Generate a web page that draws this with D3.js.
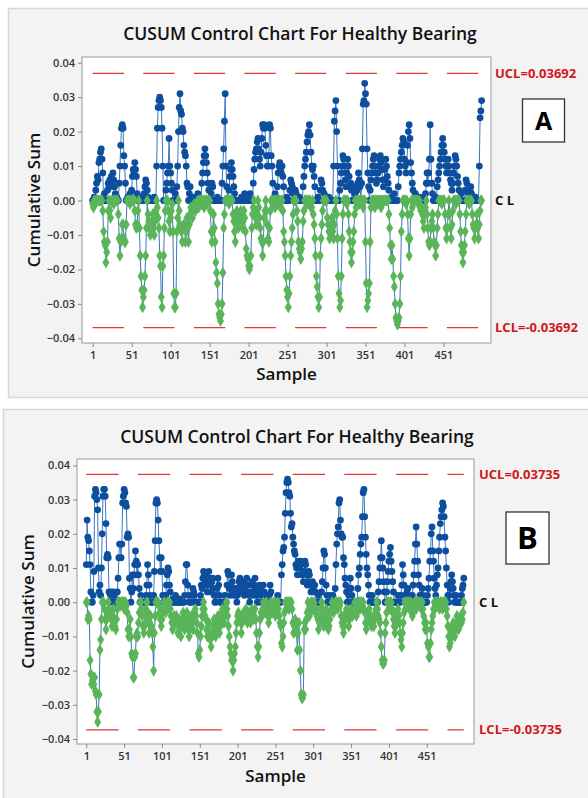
<!DOCTYPE html>
<html lang="en">
<head>
<meta charset="utf-8" />
<title>CUSUM Control Chart For Healthy Bearing</title>
<script src="https://cdn.jsdelivr.net/npm/d3@7"></script>
<style>
body { margin: 0; background: #fff; }
text { font-family: "Open Sans", "Noto Sans", sans-serif; }
</style>
</head>
<body>
<div id="chart"></div>
<script>
// CUSUM values for samples 1..500, in thousandths (x 0.001)
var upperA = [
  0,0,1,0,3,5,7,6,11,12,14,15,12,8,0,2,0,0,0,3,
  5,4,6,4,7,5,8,6,4,2,0,1,0,0,5,10,16,21,22,21,
  13,10,5,0,0,1,0,0,2,0,3,7,9,8,11,9,7,2,0,0,
  0,0,1,0,0,0,2,4,6,5,3,1,0,0,0,0,0,0,0,1,
  0,0,10,21,27,29,30,29,27,21,10,0,0,0,3,5,8,10,18,10,
  8,5,3,0,0,0,2,0,4,10,20,27,31,26,25,21,20,16,14,13,
  10,5,4,0,2,4,0,0,0,1,0,0,0,0,0,2,0,0,0,0,
  5,8,11,13,15,13,11,8,5,3,0,0,2,5,4,0,0,0,0,0,
  1,0,0,0,0,0,5,10,15,23,31,10,4,0,0,3,7,9,11,9,
  7,4,2,0,0,0,0,0,0,0,0,1,0,0,0,2,0,0,0,1,
  0,0,2,0,0,0,5,9,12,14,15,17,18,15,12,10,14,18,22,21,
  22,21,16,13,10,10,13,22,21,13,10,5,0,0,2,0,0,4,8,10,
  11,9,8,10,7,4,0,0,0,1,0,0,0,3,6,5,4,2,0,0,
  3,2,0,0,0,1,0,0,0,0,4,7,10,12,14,17,19,20,22,19,
  14,10,9,10,7,4,0,0,0,1,0,0,3,6,5,3,0,2,0,0,
  0,0,0,1,0,0,0,0,0,10,23,26,29,20,10,0,0,3,5,8,
  10,13,12,10,6,4,8,12,10,7,4,5,3,0,0,0,2,2,4,3,
  5,8,6,4,0,5,15,28,29,34,31,28,15,8,4,0,3,6,8,10,
  12,13,10,8,5,6,8,10,12,13,11,9,6,4,6,9,12,10,7,5,
  3,0,0,0,1,0,0,2,0,0,0,0,4,8,10,12,14,16,18,17,
  12,10,8,11,16,20,22,18,11,8,5,3,0,0,2,0,0,0,0,1,
  0,0,0,0,0,1,0,2,5,8,5,8,12,22,12,5,2,0,0,0,
  1,0,4,6,8,10,12,14,16,18,16,14,12,10,8,10,12,10,8,6,
  5,3,5,8,10,13,12,10,7,5,3,0,0,2,0,0,0,0,3,6,
  5,3,2,0,3,4,2,0,0,0,0,1,0,0,0,0,10,24,26,29
];
var lowerA = [
  -1,-2,0,-1,0,0,0,0,0,0,0,0,0,-3,-9,-12,-13,-18,-15,-12,
  -3,0,-3,-5,0,0,0,-1,0,0,0,0,0,-4,-11,-16,-12,-11,-7,-7,
  -11,-12,-12,-7,0,0,0,0,-1,0,0,0,0,0,-3,-7,-8,-7,-3,0,
  -8,-16,-22,-26,-31,-28,-26,-22,-16,-8,0,-4,-6,-8,-10,-8,-6,-4,-8,-10,
  -6,-3,0,-2,-5,-8,-16,-19,-28,-31,-19,-16,-8,-3,0,0,0,-3,-6,-9,
  -5,-3,-1,-9,-27,-31,-31,-27,-9,-5,0,-3,-7,-8,-9,-12,-8,-7,-8,-12,
  -9,-5,-8,-12,-7,-4,-2,-3,-5,-2,-1,-2,-3,-2,-1,0,-2,0,0,0,
  -1,0,0,-2,0,0,0,-1,0,0,0,-3,-9,-12,-9,-4,-8,-12,-18,-21,
  -24,-30,-33,-34,-35,-33,-30,-21,-8,-4,0,0,0,0,0,-1,0,0,0,0,
  -4,-6,-9,-12,-6,-3,-4,-8,-6,-4,-3,-5,-8,-6,-3,-5,-9,-14,-16,-17,
  -19,-20,-19,-16,-8,-4,-2,0,-3,-5,-7,-4,0,-2,-5,-8,-11,-12,-16,-12,
  -5,-3,0,-3,-7,-11,-12,-8,-3,0,0,-1,0,0,-2,0,0,-1,0,0,
  0,-2,0,0,-3,-9,-12,-16,-22,-26,-28,-31,-27,-22,-16,-12,-8,-4,0,0,
  0,0,-3,-6,-12,-14,-15,-17,-14,-12,-6,-3,0,0,0,-1,0,0,0,0,
  -2,-2,0,-4,-7,-11,-16,-22,-25,-28,-31,-28,-16,-11,-7,-3,0,0,0,0,
  0,-5,-7,-9,-11,-9,-7,-5,-9,-11,-7,-3,0,-4,-11,-22,-27,-31,-29,-22,
  -11,-4,0,0,0,0,-1,0,-4,-9,-12,-15,-18,-15,-12,-9,-4,0,-2,0,
  0,0,-1,0,0,0,0,-2,0,0,-12,-24,-31,-29,-27,-24,-12,-2,0,0,
  0,0,-2,0,0,-1,0,0,0,0,-2,0,0,0,0,0,0,0,0,0,
  -4,-8,-13,-17,-13,-17,-22,-25,-30,-34,-35,-36,-35,-34,-30,-22,-9,-4,0,0,
  0,0,-1,0,-4,-11,-16,-11,-4,0,-2,0,0,0,0,0,0,0,-1,0,
  -2,-3,-2,-4,-6,-8,-4,-2,0,-4,-8,-12,-13,-12,-8,-6,-4,-8,-12,-13,
  -16,-13,-8,-4,0,0,0,0,-1,0,0,0,-4,-8,-11,-8,-4,0,-4,-8,
  -11,-7,-3,0,0,0,-1,0,0,0,0,-4,-9,-13,-15,-18,-15,-13,-9,-4,
  0,0,0,-1,0,0,0,-4,-7,-8,-11,-8,-7,-4,-8,-11,-7,-3,0,0
];
var upperB = [
  11,24,19,18,15,11,3,0,0,2,9,31,33,32,30,27,10,3,5,2,
  10,20,31,33,33,31,23,13,14,13,3,0,2,3,2,0,3,2,0,0,
  0,3,7,13,17,17,13,17,29,31,33,32,29,28,19,20,19,7,4,0,
  3,8,4,8,11,15,12,8,11,8,4,0,2,0,0,0,0,0,0,2,
  5,11,8,5,2,0,0,0,0,2,9,18,29,30,29,24,18,13,9,13,
  9,2,0,0,0,2,5,8,10,9,5,3,0,0,0,1,0,0,2,0,
  0,0,0,1,0,0,0,0,0,0,2,6,11,11,5,2,0,0,0,0,
  2,4,3,2,0,0,0,0,0,0,0,2,5,4,7,9,8,6,8,5,
  3,5,9,7,5,3,6,7,4,2,0,0,2,4,7,5,2,0,0,0,
  0,0,0,2,0,0,5,9,8,4,2,5,8,6,4,2,3,4,2,0,
  2,4,6,7,5,3,5,6,4,2,3,5,7,5,3,2,0,2,5,6,
  3,2,5,7,4,2,0,0,3,5,4,2,0,2,5,3,0,0,2,0,
  0,0,2,5,3,0,0,0,0,0,0,0,0,2,0,0,0,0,8,11,
  15,16,19,26,32,35,36,35,32,31,26,22,23,19,17,15,14,11,10,8,
  12,11,10,12,11,8,9,6,9,12,11,8,5,6,9,8,5,3,5,6,
  4,3,5,3,0,0,0,2,0,0,0,3,6,10,15,14,10,5,2,0,
  0,0,2,0,0,0,2,0,0,4,11,17,20,22,29,30,24,20,19,19,
  13,11,7,5,3,0,0,2,4,7,4,2,0,0,0,0,0,0,0,4,
  8,10,14,17,19,25,32,33,25,19,14,10,8,5,2,0,0,0,2,0,
  0,0,0,0,0,0,3,6,10,13,18,13,10,6,3,0,0,3,6,9,
  12,14,16,12,9,6,3,0,0,0,0,0,2,0,0,0,2,5,11,8,
  5,2,0,2,3,4,2,0,0,0,0,2,5,8,12,17,22,17,12,8,
  5,2,0,2,4,2,0,0,0,0,0,2,4,7,12,15,20,22,15,12,
  7,4,2,5,8,10,15,19,23,25,27,29,28,25,19,15,10,5,2,0,
  2,4,6,8,6,4,2,0,0,2,0,0,0,0,0,0,2,4,5,7
];
var lowerB = [
  0,0,-5,-4,-5,-17,-21,-24,-23,-22,-24,-22,-26,-27,-32,-35,-32,-27,-14,-11,
  -5,0,0,0,-2,-5,-8,-5,-3,0,-2,-4,-3,-5,-7,-4,-2,-5,-7,-8,
  -5,-2,0,0,0,-1,0,0,0,0,-2,0,0,-1,-3,-8,-10,-8,-5,-10,
  -15,-16,-22,-22,-16,-15,-10,-9,-10,-6,-3,0,0,-2,-4,-7,-9,-7,-4,-2,
  0,-3,-6,-9,-6,-4,-7,-9,-13,-20,-9,-4,0,0,0,0,-1,-3,-5,-7,
  -5,-3,-2,0,-2,-3,-2,0,0,-1,0,-2,-4,-6,-8,-6,-4,-5,-6,-4,
  -6,-9,-7,-5,-8,-10,-7,-5,-3,-6,-8,-6,-4,-3,-5,-8,-10,-8,-6,-4,
  -6,-8,-5,-3,-2,-4,-6,-9,-15,-16,-14,-10,-7,-4,-2,0,-2,-4,-5,-8,
  -10,-8,-6,-9,-11,-13,-10,-9,-7,-5,-8,-10,-8,-6,-4,-7,-9,-7,-5,-3,
  -2,-4,-6,-4,-2,0,-2,-4,-7,-10,-13,-15,-17,-16,-20,-17,-15,-13,-9,-6,
  -4,-3,-5,-4,-6,-9,-6,-4,-3,-5,-4,-2,-4,-6,-5,-3,-4,-6,-4,-2,
  -3,-5,-4,-2,-5,-9,-13,-16,-13,-9,-5,-3,-4,-2,0,-2,-3,-2,0,-2,
  -4,-6,-4,-2,0,-2,-3,-2,0,-2,-4,-3,-1,0,-2,-4,-6,-7,-12,-13,
  -10,-6,-3,0,-2,0,0,0,-2,0,0,0,-2,-6,-9,-7,-5,-7,-9,-14,
  -9,-6,-14,-20,-27,-28,-28,-27,-8,-6,-8,-5,-3,0,-2,-4,-3,0,0,-2,
  0,0,-2,-3,-2,-4,-5,-8,-6,-4,-2,0,-2,-5,-7,-6,-4,-2,-4,-6,
  -8,-7,-5,-3,-2,0,-2,-3,-2,0,0,0,-2,0,0,-1,0,-4,-6,-7,
  -9,-7,-5,-3,-2,-4,-5,-7,-5,-3,-2,-3,-4,-3,-2,0,-2,-4,-3,-2,
  0,0,-2,0,0,-1,0,-2,-3,-6,-8,-6,-4,-3,-2,-4,-6,-7,-5,-6,
  -7,-5,-3,-2,0,-2,-4,-5,-6,-9,-13,-17,-18,-18,-17,-9,-6,-3,0,0,
  0,-2,0,0,-2,-3,-5,-7,-9,-7,-5,-3,-2,-4,-6,-9,-11,-13,-9,-6,
  -3,0,-2,0,-1,0,0,-2,0,0,-2,-4,-3,-2,0,0,-2,0,0,0,
  -1,0,0,-2,0,-2,-4,-6,-8,-6,-8,-12,-13,-16,-16,-12,-8,-6,-4,-2,
  0,-2,0,0,-1,0,0,-2,0,0,0,-2,0,-1,0,0,-2,-4,-7,-10,
  -13,-12,-8,-10,-7,-6,-8,-10,-8,-6,-4,-6,-8,-7,-5,-4,-6,-5,-3,0
];

var xTicks = [1, 51, 101, 151, 201, 251, 301, 351, 401, 451];
var yTicks = [-0.04, -0.03, -0.02, -0.01, 0, 0.01, 0.02, 0.03, 0.04];
var limitsA = [0.03692, -0.03692];
var limitsB = [0.03735, -0.03735];
var title = "CUSUM Control Chart For Healthy Bearing";

var svg = d3.select("#chart").append("svg")
    .attr("width", 588)
    .attr("height", 798);

function drawPanel(p) {
  var g = svg.append("g");

  // grey outer frame
  g.append("rect")
    .attr("x", p.frame[0] + 0.5).attr("y", p.frame[1] + 0.5)
    .attr("width", p.frame[2]).attr("height", p.frame[3])
    .attr("fill", "#f3f3f3").attr("stroke", "#d6d6d6").attr("stroke-width", 1.5);

  var x = d3.scaleLinear().domain(p.xDomain).range([p.left, p.right]);
  var y = d3.scaleLinear().domain(p.yDomain).range([p.bottom, p.top]);

  // plot area
  g.append("rect")
    .attr("x", p.left).attr("y", p.top)
    .attr("width", p.right - p.left).attr("height", p.bottom - p.top)
    .attr("fill", "#fff").attr("stroke", "#b9b9b9").attr("stroke-width", 1.5);

  var xAxis = g.append("g")
    .attr("transform", "translate(0," + p.bottom + ")")
    .call(d3.axisBottom(x).tickValues(xTicks).tickSize(4).tickSizeOuter(0).tickFormat(d3.format("d")));
  var yAxis = g.append("g")
    .attr("transform", "translate(" + p.left + ",0)")
    .call(d3.axisLeft(y).tickValues(yTicks).tickSize(4).tickSizeOuter(0).tickFormat(d3.format(".2f")));
  [xAxis, yAxis].forEach(function(a) {
    a.select(".domain").remove();
    a.selectAll("line").attr("stroke", "#8a8a8a");
    a.selectAll("text").attr("fill", "#333").style("font-size", "11px").style("font-weight", 600);
  });
  xAxis.selectAll("text").attr("dy", "0.85em");

  // UCL / LCL dashed lines
  p.limits.forEach(function(v) {
    g.append("line")
      .attr("x1", x(1)).attr("x2", x(500))
      .attr("y1", y(v)).attr("y2", y(v))
      .attr("stroke", "#e03a2e").attr("stroke-width", 1.3)
      .attr("stroke-dasharray", p.dash);
  });

  var up = p.upper.map(function(v, i) { return {s: i + 1, v: v / 1000}; });
  var lo = p.lower.map(function(v, i) { return {s: i + 1, v: v / 1000}; });
  var line = d3.line().x(function(d) { return x(d.s); }).y(function(d) { return y(d.v); });

  g.append("path").datum(lo)
    .attr("fill", "none").attr("stroke", "#3a76c2").attr("stroke-width", 1)
    .attr("d", line);
  g.append("path").datum(up)
    .attr("fill", "none").attr("stroke", "#3a76c2").attr("stroke-width", 1)
    .attr("d", line);

  g.append("g").selectAll("circle")
    .data(up)
    .enter().append("circle")
      .attr("cx", function(d) { return x(d.s); })
      .attr("cy", function(d) { return y(d.v); })
      .attr("r", 3.4)
      .attr("fill", "#0d4f9e");

  var diamond = d3.symbol().type(d3.symbolDiamond).size(42);
  g.append("g").selectAll("path")
    .data(lo)
    .enter().append("path")
      .attr("transform", function(d) { return "translate(" + x(d.s) + "," + y(d.v) + ")"; })
      .attr("d", diamond)
      .attr("fill", "#5ab55a");

  // limit labels
  g.append("text").attr("x", p.labelX).attr("y", y(p.limits[0])).attr("dy", "0.35em")
    .attr("fill", "#d4161b").style("font-size", "13px").style("font-weight", 700)
    .text("UCL=" + p.limits[0]);
  g.append("text").attr("x", p.labelX).attr("y", y(0)).attr("dy", "0.35em")
    .attr("fill", "#111").style("font-size", "13px").style("font-weight", 700)
    .text("C L");
  g.append("text").attr("x", p.labelX).attr("y", y(p.limits[1])).attr("dy", "0.35em")
    .attr("fill", "#d4161b").style("font-size", "13px").style("font-weight", 700)
    .text("LCL=" + p.limits[1]);

  // titles
  g.append("text").attr("x", p.titleX).attr("y", p.titleY).attr("dy", "0.35em")
    .attr("text-anchor", "middle").attr("fill", "#111")
    .style("font-size", "17.5px").style("font-weight", 600)
    .text(title);
  g.append("text").attr("x", (p.left + p.right) / 2).attr("y", p.sampleY).attr("dy", "0.35em")
    .attr("text-anchor", "middle").attr("fill", "#111")
    .style("font-size", "17px").style("font-weight", 600)
    .text("Sample");
  g.append("text")
    .attr("transform", "translate(" + p.yLabelX + "," + (p.top + p.bottom) / 2 + ") rotate(-90)")
    .attr("dy", "0.35em").attr("text-anchor", "middle").attr("fill", "#111")
    .style("font-size", "17px").style("font-weight", 600)
    .text("Cumulative Sum");

  // panel letter box
  g.append("rect")
    .attr("x", p.box[0]).attr("y", p.box[1]).attr("width", p.box[2]).attr("height", p.box[3])
    .attr("fill", "#fff").attr("stroke", "#333").attr("stroke-width", 1.3);
  g.append("text")
    .attr("x", p.box[0] + p.box[2] / 2).attr("y", p.box[1] + p.box[3] / 2).attr("dy", "0.36em")
    .attr("text-anchor", "middle").attr("fill", "#000")
    .style("font-size", p.letterSize + "px").style("font-weight", 700)
    .text(p.letter);
}

drawPanel({
  frame: [8, 8, 600, 389],
  left: 82, right: 491, top: 57, bottom: 343,
  xDomain: [-12.7, 512], yDomain: [-0.04136, 0.04165],
  upper: upperA, lower: lowerA, limits: limitsA,
  dash: "31.3,19.3", labelX: 495,
  titleX: 300, titleY: 34, sampleY: 374, yLabelX: 34,
  box: [522.5, 99, 42, 43], letter: "A", letterSize: 25
});

drawPanel({
  frame: [3, 409, 600, 400],
  left: 77, right: 474, top: 459, bottom: 744,
  xDomain: [-11.3, 513.5], yDomain: [-0.04146, 0.04187],
  upper: upperB, lower: lowerB, limits: limitsB,
  dash: "32.3,19.3", labelX: 479,
  titleX: 297, titleY: 437, sampleY: 776, yLabelX: 28,
  box: [506, 512, 43, 52], letter: "B", letterSize: 31
});
</script>
</body>
</html>
